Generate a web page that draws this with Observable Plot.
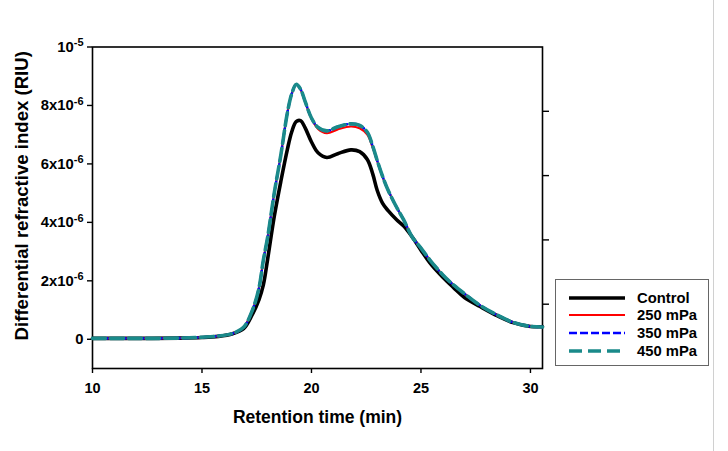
<!DOCTYPE html>
<html>
<head>
<meta charset="utf-8">
<script src="https://cdn.jsdelivr.net/npm/d3@7"></script>
<script src="https://cdn.jsdelivr.net/npm/@observablehq/plot@0.6"></script>
<style>
  html, body { margin: 0; padding: 0; background: #fff; }
  #wrap { position: relative; width: 728px; height: 451px; overflow: hidden; font-family: Arial, "Liberation Sans", sans-serif; }
  #vline { position: absolute; left: 713px; top: 0; width: 1px; height: 451px; background: #d0d0d0; }
  #legend { position: absolute; left: 555px; top: 279px; width: 154px; height: 87px; border: 1px solid #666; background: #fff; box-sizing: border-box; }
  #legend .row { position: absolute; left: 0; height: 18px; display: flex; align-items: center; }
  #legend .row span { font-weight: bold; font-size: 14.8px; color: #000; margin-left: 12px; }
  #legend svg { display: block; margin-left: 13px; }
</style>
</head>
<body>
<div id="wrap">
  <div id="chart"></div>
  <div id="vline"></div>
  <div id="legend"></div>
</div>
<script>
// Retention time (min)
const times = [10, 12, 14, 15, 15.75, 16.4, 16.9, 17.3, 17.6, 17.8, 18.0, 18.3, 18.6, 18.9, 19.1, 19.3, 19.5, 19.7, 20.0, 20.3, 20.7, 21.2, 21.8, 22.2, 22.55, 22.8, 23.0, 23.25, 23.5, 23.9, 24.2, 24.6, 25.0, 25.4, 26.0, 26.5, 27.0, 27.7, 28.5, 29.2, 30.0, 30.55];
// Differential refractive index, in units of 1e-6 RIU
const control = [0.03, 0.03, 0.04, 0.06, 0.10, 0.19, 0.36, 0.85, 1.35, 1.85, 2.75, 4.2, 5.4, 6.5, 7.1, 7.45, 7.48, 7.25, 6.75, 6.38, 6.22, 6.35, 6.48, 6.42, 6.15, 5.65, 5.1, 4.65, 4.4, 4.08, 3.88, 3.5, 3.05, 2.62, 2.12, 1.76, 1.42, 1.12, 0.8, 0.57, 0.44, 0.43];
const mpa250 = [0.03, 0.03, 0.04, 0.07, 0.11, 0.2, 0.41, 0.99, 1.75, 2.7, 3.5, 5.0, 6.3, 7.75, 8.4, 8.72, 8.55, 8.15, 7.55, 7.2, 7.05, 7.18, 7.28, 7.22, 7.0, 6.55, 6.1, 5.55, 5.1, 4.5, 4.1, 3.5, 3.12, 2.72, 2.2, 1.85, 1.55, 1.16, 0.82, 0.58, 0.44, 0.42];
const mpa350 = [0.03, 0.03, 0.04, 0.07, 0.11, 0.2, 0.41, 0.99, 1.75, 2.7, 3.5, 5.0, 6.3, 7.75, 8.4, 8.72, 8.56, 8.16, 7.57, 7.25, 7.13, 7.27, 7.37, 7.32, 7.08, 6.6, 6.12, 5.57, 5.1, 4.5, 4.1, 3.5, 3.12, 2.72, 2.2, 1.85, 1.55, 1.16, 0.82, 0.58, 0.44, 0.42];
const mpa450 = [0.03, 0.03, 0.04, 0.07, 0.11, 0.2, 0.41, 0.99, 1.75, 2.7, 3.5, 5.0, 6.3, 7.75, 8.4, 8.72, 8.56, 8.16, 7.57, 7.25, 7.13, 7.27, 7.37, 7.32, 7.08, 6.6, 6.12, 5.57, 5.1, 4.5, 4.1, 3.5, 3.12, 2.72, 2.2, 1.85, 1.55, 1.16, 0.82, 0.58, 0.44, 0.42];

const seriesNames = ["Control", "250 mPa", "350 mPa", "450 mPa"];
const xTicks = [10, 15, 20, 25, 30];
const yTicks = [0, 2, 4, 6, 8, 10];
const yTickBase = ["0", "2x10", "4x10", "6x10", "8x10", "10"];
const yTickExp = ["", "-6", "-6", "-6", "-6", "-5"];
const rightTicks = [1.2, 3.4, 5.6, 7.8];
const xTitle = "Retention time (min)";
const yTitle = "Differential refractive index (RIU)";

const styles = [
  {stroke: "#000000", strokeWidth: 3.6, dash: null},
  {stroke: "#ff0000", strokeWidth: 2.2, dash: null},
  {stroke: "#0000ff", strokeWidth: 2.6, dash: "6,3"},
  {stroke: "#1a8a8a", strokeWidth: 3.6, dash: "13,5"}
];
const valuesList = [control, mpa250, mpa350, mpa450];
const tables = valuesList.map(vals => times.map((t, i) => ({t, v: vals[i]})));

const lineMarks = tables.map((tab, k) => Plot.line(tab, {
  x: "t", y: "v", curve: "catmull-rom",
  stroke: styles[k].stroke, strokeWidth: styles[k].strokeWidth,
  strokeDasharray: styles[k].dash || undefined, strokeLinejoin: "round"
}));

const chart = Plot.plot({
  width: 728,
  height: 451,
  marginLeft: 92,
  marginRight: 186,
  marginTop: 46.5,
  marginBottom: 83,
  style: {fontFamily: "Arial, 'Liberation Sans', sans-serif", fontSize: "14px", fontWeight: "bold", color: "#000", background: "#fff"},
  x: {domain: [10, 30.55]},
  y: {domain: [-1, 10]},
  marks: [
    Plot.frame({stroke: "#000", strokeWidth: 1.6}),
    Plot.axisX(xTicks, {tickSize: 5, tickPadding: 9, strokeWidth: 1.4, label: null, fontSize: 14.5, fontWeight: "bold", tickFormat: d => String(d)}),
    Plot.axisY(yTicks, {tickSize: 5, tickPadding: 4, strokeWidth: 1.4, label: null, fontSize: 14.8, fontWeight: "bold", tickFormat: (d) => yTickBase[yTicks.indexOf(d)]}),
    Plot.axisY(rightTicks, {anchor: "right", tickSize: 6, strokeWidth: 1.4, label: null, tickFormat: () => ""}),
    ...lineMarks,
    Plot.text([xTitle], {frameAnchor: "bottom", dy: 54, text: d => d, fontSize: 17.5, fontWeight: "bold"}),
    Plot.text([yTitle], {frameAnchor: "left", textAnchor: "middle", dx: -70, dy: -12, rotate: -90, text: d => d, fontSize: 18.6, fontWeight: "bold"})
  ]
});
document.getElementById("chart").appendChild(chart);

// superscript exponents on y tick labels
const yLabelTexts = chart.querySelectorAll('g[aria-label="y-axis tick label"] text');
yLabelTexts.forEach(el => {
  const base = el.textContent;
  const idx = yTickBase.indexOf(base);
  if (idx >= 0 && yTickExp[idx]) {
    const sup = document.createElementNS("http://www.w3.org/2000/svg", "tspan");
    sup.setAttribute("dy", "-0.5em");
    sup.setAttribute("font-size", "11px");
    sup.textContent = yTickExp[idx];
    el.appendChild(sup);
  }
});

// legend
const legend = document.getElementById("legend");
const rowTops = [9, 26, 44, 62];
seriesNames.forEach((name, k) => {
  const row = document.createElement("div");
  row.className = "row";
  row.style.top = rowTops[k] + "px";
  const s = styles[k];
  row.innerHTML = `<svg width="56" height="8"><line x1="0" y1="4" x2="56" y2="4" stroke="${s.stroke}" stroke-width="${Math.min(s.strokeWidth, 3.4)}" ${s.dash ? `stroke-dasharray="${k === 3 ? '13,6' : '8,3'}"` : ""}/></svg><span>${name}</span>`;
  legend.appendChild(row);
});
</script>
</body>
</html>
